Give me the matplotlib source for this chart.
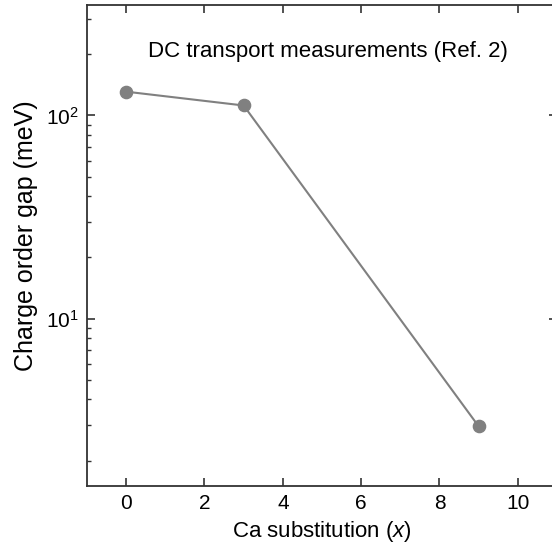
import matplotlib
matplotlib.use('Agg')
import matplotlib.pyplot as plt
from matplotlib.ticker import LogLocator, NullFormatter

# Ca substitution vs charge order gap from DC transport
ca_x = [0, 3, 9]
gap_mev = [131, 112, 2.95]

plt.rcParams['font.family'] = ['Liberation Sans', 'DejaVu Sans']
plt.rcParams['mathtext.fontset'] = 'custom'
plt.rcParams['mathtext.it'] = 'Liberation Sans:italic'
plt.rcParams['mathtext.rm'] = 'Liberation Sans'


def main():
    fig = plt.figure(figsize=(5.52, 5.46), dpi=100)
    # right edge runs just past the canvas
    ax = fig.add_axes([0.1576, 0.1099, 0.8514, 0.881])

    ax.plot(ca_x, gap_mev, color='#808080', lw=1.5, marker='o', ms=8.8)
    ax.set_yscale('log')
    ax.set_xlim(-1, 11)
    ax.set_ylim(1.5, 350)
    ax.set_xticks([0, 2, 4, 6, 8, 10])

    ax.yaxis.set_minor_locator(LogLocator(base=10, subs=range(2, 10)))
    ax.yaxis.set_minor_formatter(NullFormatter())
    ax.tick_params(which='both', direction='in', top=True, right=True,
                   labelsize=15, color='#333333', pad=6)
    ax.tick_params(which='major', length=6, width=1.2)
    ax.tick_params(which='minor', length=3, width=1.0)
    for s in ax.spines.values():
        s.set_color('#333333')
        s.set_linewidth(1.3)

    ax.set_xlabel('Ca substitution ($x$)', fontsize=16, labelpad=4)
    ax.set_ylabel('Charge order gap (meV)', fontsize=18)
    ax.yaxis.set_label_coords(-0.104, 0.52)
    ax.text(0.513, 0.904, 'DC transport measurements (Ref. 2)',
            transform=ax.transAxes, ha='center', va='center', fontsize=16)

    fig.savefig('out.png', dpi=100)


if __name__ == '__main__':
    main()
